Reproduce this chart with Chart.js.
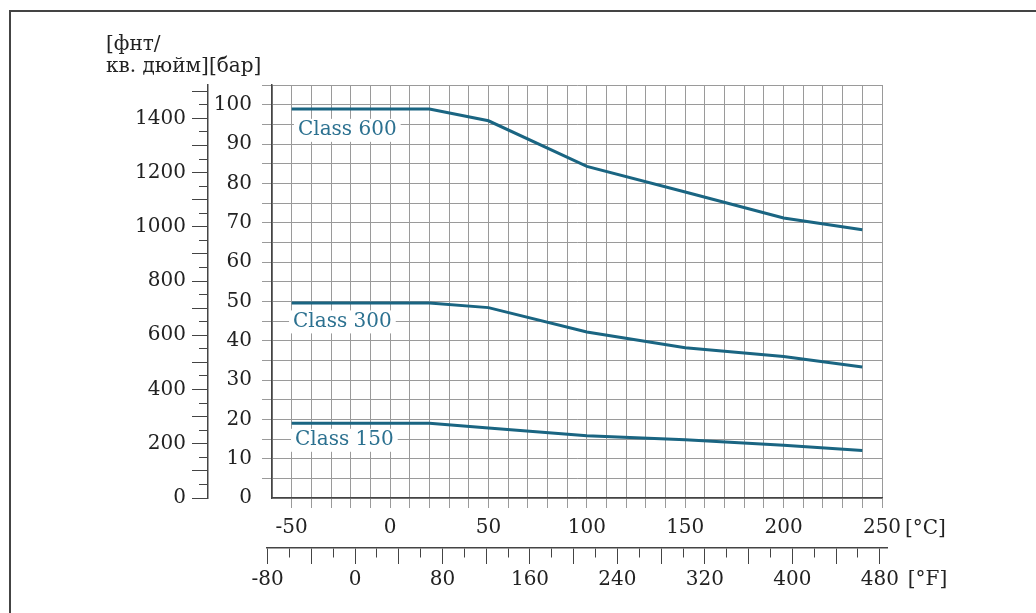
<!DOCTYPE html>
<html>
<head>
<meta charset="utf-8">
<title>Class 150 / 300 / 600 pressure–temperature rating</title>
<script src="https://cdn.jsdelivr.net/npm/chart.js@4.4.1/dist/chart.umd.min.js"></script>
<style>
  html, body { margin: 0; padding: 0; background: #fff; }
  #wrap { position: relative; width: 1036px; height: 613px; overflow: hidden; }
  #frame {
    position: absolute; left: 9px; top: 10px; right: -10px; bottom: -10px;
    border-top: 2px solid #444; border-left: 2px solid #444;
  }
  canvas { position: absolute; left: 0; top: 0; }
</style>
</head>
<body>
<div id="wrap">
  <div id="frame"></div>
  <canvas id="pressureChart" width="1036" height="613"></canvas>
  <canvas id="fahrenheitAxis" width="1036" height="613"></canvas>
</div>
<script>
// ── Data ────────────────────────────────────────────────────────────────────

const tempC    = [-50, 20, 50, 100, 150, 200, 240];
const class150 = [19.0, 19.0, 17.8, 15.8, 14.8, 13.4, 12.1];
const class300 = [49.6, 49.6, 48.4, 42.2, 38.2, 36.0, 33.3];
const class600 = [98.9, 98.9, 95.9, 84.3, 77.8, 71.2, 68.2];
const seriesNames = ['Class 150', 'Class 300', 'Class 600'];

const cTicks   = [-50, 0, 50, 100, 150, 200, 250];
const fTicks   = [-80, 0, 80, 160, 240, 320, 400, 480];
const barTicks = [0, 10, 20, 30, 40, 50, 60, 70, 80, 90, 100];
const psiTicks = [0, 200, 400, 600, 800, 1000, 1200, 1400];

const PSI_PER_BAR = 14.5038;
const BAR_MAX = 105;

// ── Styles ──────────────────────────────────────────────────────────────────

const FONT = 'DejaVu Serif';
const LINE = '#1a6582';
const LABEL = '#2c7190';
const INK = '#222';
const GRID = '#9a9a9a';
const AXIS = '#444';
const tickFont = { family: FONT, size: 20 };

Chart.defaults.font.family = FONT;

// ── Plugins ─────────────────────────────────────────────────────────────────

// where the series names sit, in (°C, bar)
const labelAnchors = [[-48.3, 14.8], [-49.3, 44.9], [-46.8, 93.6]];

const annotations = {
  id: 'annotations',
  afterDraw(chart) {
    const { ctx, scales: { x, y } } = chart;
    ctx.save();
    ctx.font = `20px "${FONT}"`;
    ctx.textBaseline = 'middle';
    ctx.textAlign = 'left';

    labelAnchors.forEach(([cx, cy], i) => {
      const px = x.getPixelForValue(cx);
      const py = y.getPixelForValue(cy);
      const w = ctx.measureText(seriesNames[i]).width;
      ctx.fillStyle = '#fff';
      ctx.fillRect(px - 4, py - 11, w + 8, 23);
      ctx.fillStyle = LABEL;
      ctx.fillText(seriesNames[i], px, py);
    });

    ctx.fillStyle = INK;
    ctx.fillText('[фнт/', 106, 45);
    ctx.fillText('кв. дюйм][бар]', 106, 67);
    ctx.fillText('[°C]', x.getPixelForValue(250) + 23, 529);
    ctx.restore();
  }
};

const unitF = {
  id: 'unitF',
  afterDraw(chart) {
    const { ctx, scales: { x } } = chart;
    ctx.save();
    ctx.font = `20px "${FONT}"`;
    ctx.textBaseline = 'middle';
    ctx.textAlign = 'left';
    ctx.fillStyle = INK;
    ctx.fillText('[°F]', x.getPixelForValue(480) + 28, 580);
    ctx.restore();
  }
};

// ── Main chart (°C / bar / psi) ─────────────────────────────────────────────

const toPoints = vals => tempC.map((t, i) => ({ x: t, y: vals[i] }));

new Chart(document.getElementById('pressureChart'), {
  type: 'line',
  data: {
    datasets: [class150, class300, class600].map((vals, i) => ({
      label: seriesNames[i],
      data: toPoints(vals),
      borderColor: LINE,
      borderWidth: 3,
      pointRadius: 0,
      tension: 0,
      fill: false,
    }))
  },
  options: {
    responsive: false,
    animation: false,
    events: [],
    layout: { padding: { left: 0, right: 154, top: 85, bottom: 65 } },
    plugins: { legend: { display: false }, tooltip: { enabled: false } },
    scales: {
      x: {
        type: 'linear',
        position: 'bottom',
        min: -60,
        max: 250,
        afterFit: s => { s.height = 50; },
        border: { display: true, color: AXIS, width: 1.5 },
        grid: {
          color: GRID,
          tickLength: 10,
          tickColor: c => (c.tick && c.tick.value === -60) ? 'rgba(0,0,0,0)' : GRID,
        },
        ticks: {
          stepSize: 10,
          autoSkip: false,
          maxRotation: 0,
          padding: 8,
          color: INK,
          font: tickFont,
          callback: v => cTicks.includes(v) ? String(v) : '',
        }
      },
      y: {
        type: 'linear',
        position: 'left',
        min: 0,
        max: BAR_MAX,
        afterFit: s => { s.width = 64; },
        border: { display: true, color: AXIS, width: 1.5 },
        grid: {
          color: GRID,
          tickLength: 10,
          tickColor: c => (c.tick && c.tick.value === 0) ? 'rgba(0,0,0,0)' : GRID,
        },
        ticks: {
          stepSize: 5,
          autoSkip: false,
          padding: 10,
          color: INK,
          font: tickFont,
          callback: v => barTicks.includes(v) ? String(v) : '',
        }
      },
      psi: {
        type: 'linear',
        position: 'left',
        min: 0,
        max: BAR_MAX * PSI_PER_BAR,
        afterFit: s => { s.width = 208; },
        border: { display: true, color: AXIS, width: 1.5 },
        grid: {
          drawOnChartArea: false,
          tickLength: 16,
          tickColor: AXIS,
          tickBorderDash: c => (c.tick && c.tick.value % 100 === 0) ? [] : [0, 7, 9, 100],
        },
        ticks: {
          stepSize: 50,
          autoSkip: false,
          includeBounds: false,
          padding: 6,
          color: INK,
          font: tickFont,
          callback: v => psiTicks.includes(v) ? String(v) : '',
        }
      }
    }
  },
  plugins: [annotations]
});

// ── Second axis (°F) ────────────────────────────────────────────────────────

new Chart(document.getElementById('fahrenheitAxis'), {
  type: 'line',
  data: { datasets: [] },
  options: {
    responsive: false,
    animation: false,
    events: [],
    layout: { padding: { left: 267, right: 149, top: 0, bottom: 0 } },
    plugins: { legend: { display: false }, tooltip: { enabled: false } },
    scales: {
      x: {
        type: 'linear',
        position: 'bottom',
        min: -80.6,
        max: 486.6,
        afterFit: s => { s.height = 65; },
        border: { display: true, color: AXIS, width: 1.5 },
        grid: {
          drawOnChartArea: false,
          tickLength: 16,
          tickColor: AXIS,
          tickBorderDash: c => (c.tick && c.tick.value % 40 === 0) ? [] : [9, 100],
        },
        ticks: {
          stepSize: 20,
          autoSkip: false,
          includeBounds: false,
          maxRotation: 0,
          padding: 4,
          color: INK,
          font: tickFont,
          callback: v => fTicks.includes(v) ? String(v) : '',
        }
      },
      y: { display: false, min: 0, max: 1 }
    }
  },
  plugins: [unitF]
});
</script>
</body>
</html>
